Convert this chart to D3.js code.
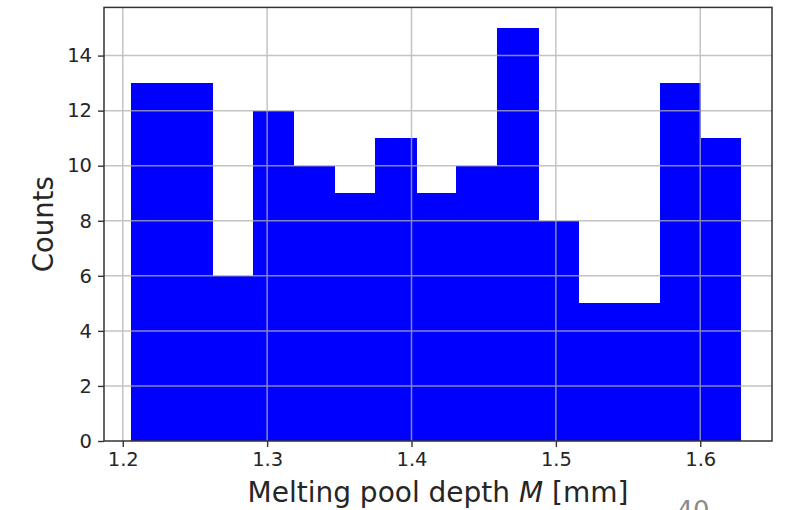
<!DOCTYPE html>
<html>
<head>
<meta charset="utf-8">
<script src="https://cdn.jsdelivr.net/npm/d3@7"></script>
<style>
  html, body { margin: 0; padding: 0; background: #fff; }
  svg { display: block; }
  text { font-family: "DejaVu Sans", sans-serif; }
</style>
</head>
<body>
<svg id="chart" width="787" height="510"></svg>
<script>
// Histogram of melting pool depth: bin edges (mm) and counts per bin
const binEdges = [1.2055, 1.2337, 1.2619, 1.2900, 1.3182, 1.3464, 1.3746, 1.4028,
                  1.4309, 1.4591, 1.4873, 1.5155, 1.5437, 1.5718, 1.6000, 1.6282];
const counts = [13, 13, 6, 12, 10, 9, 11, 9, 10, 15, 8, 5, 5, 13, 11];
const xTicks = [1.2, 1.3, 1.4, 1.5, 1.6];
const yTicks = [0, 2, 4, 6, 8, 10, 12, 14];
const xLimits = [1.1870, 1.6497];
const yLimits = [0, 15.75];

const bins = counts.map((c, i) => ({ x0: binEdges[i], x1: binEdges[i + 1], count: c }));

const svg = d3.select("#chart");
const plot = { left: 104, right: 772, top: 7.4, bottom: 441 };

const x = d3.scaleLinear().domain(xLimits).range([plot.left, plot.right]);
const y = d3.scaleLinear().domain(yLimits).range([plot.bottom, plot.top]);

// bars (slightly widened so neighbouring bins join without a seam)
svg.append("g")
  .attr("shape-rendering", "crispEdges")
  .selectAll("rect")
  .data(bins)
  .join("rect")
  .attr("x", d => x(d.x0))
  .attr("width", (d, i) => x(d.x1) - x(d.x0) + (i < bins.length - 1 ? 1 : 0))
  .attr("y", d => y(d.count))
  .attr("height", d => y(0) - y(d.count))
  .attr("fill", "#0000ff");

// grid, drawn over the bars
const grid = svg.append("g").attr("stroke", "#b0b0b0").attr("stroke-width", 1.5).attr("opacity", 0.75);
grid.selectAll("line.vx")
  .data(xTicks)
  .join("line")
  .attr("x1", d => x(d)).attr("x2", d => x(d))
  .attr("y1", plot.top).attr("y2", plot.bottom);
grid.selectAll("line.hy")
  .data(yTicks.filter(t => t > 0))
  .join("line")
  .attr("y1", d => y(d)).attr("y2", d => y(d))
  .attr("x1", plot.left).attr("x2", plot.right);

// axes
const xAxis = d3.axisBottom(x).tickValues(xTicks).tickFormat(d3.format(".1f")).tickSize(6).tickPadding(5);
const yAxis = d3.axisLeft(y).tickValues(yTicks).tickFormat(d3.format("d")).tickSize(6).tickPadding(6);

const gx = svg.append("g").attr("transform", `translate(0,${plot.bottom})`).call(xAxis);
const gy = svg.append("g").attr("transform", `translate(${plot.left},0)`).call(yAxis);
[gx, gy].forEach(g => {
  g.select(".domain").remove();
  g.selectAll(".tick line").attr("stroke", "#333").attr("stroke-width", 1.4);
  g.selectAll(".tick text").attr("fill", "#262626").attr("font-size", 19.5)
    .attr("font-family", "DejaVu Sans, sans-serif");
});

// frame
svg.append("rect")
  .attr("x", plot.left).attr("y", plot.top)
  .attr("width", plot.right - plot.left).attr("height", plot.bottom - plot.top)
  .attr("fill", "none").attr("stroke", "#333").attr("stroke-width", 1.5);

// axis labels
const xl = svg.append("text")
  .attr("x", (plot.left + plot.right) / 2).attr("y", 502)
  .attr("text-anchor", "middle").attr("font-size", 28).attr("fill", "#262626");
xl.append("tspan").text("Melting pool depth ");
xl.append("tspan").attr("font-style", "italic").text("M");
xl.append("tspan").text(" [mm]");

svg.append("text")
  .attr("transform", `translate(53,${(plot.top + plot.bottom) / 2}) rotate(-90)`)
  .attr("text-anchor", "middle").attr("font-size", 27.5).attr("fill", "#262626")
  .text("Counts");

// page number
svg.append("text")
  .attr("x", 693).attr("y", 520)
  .attr("text-anchor", "middle").attr("font-size", 26).attr("fill", "#8a8a8a")
  .text("40");
</script>
</body>
</html>
